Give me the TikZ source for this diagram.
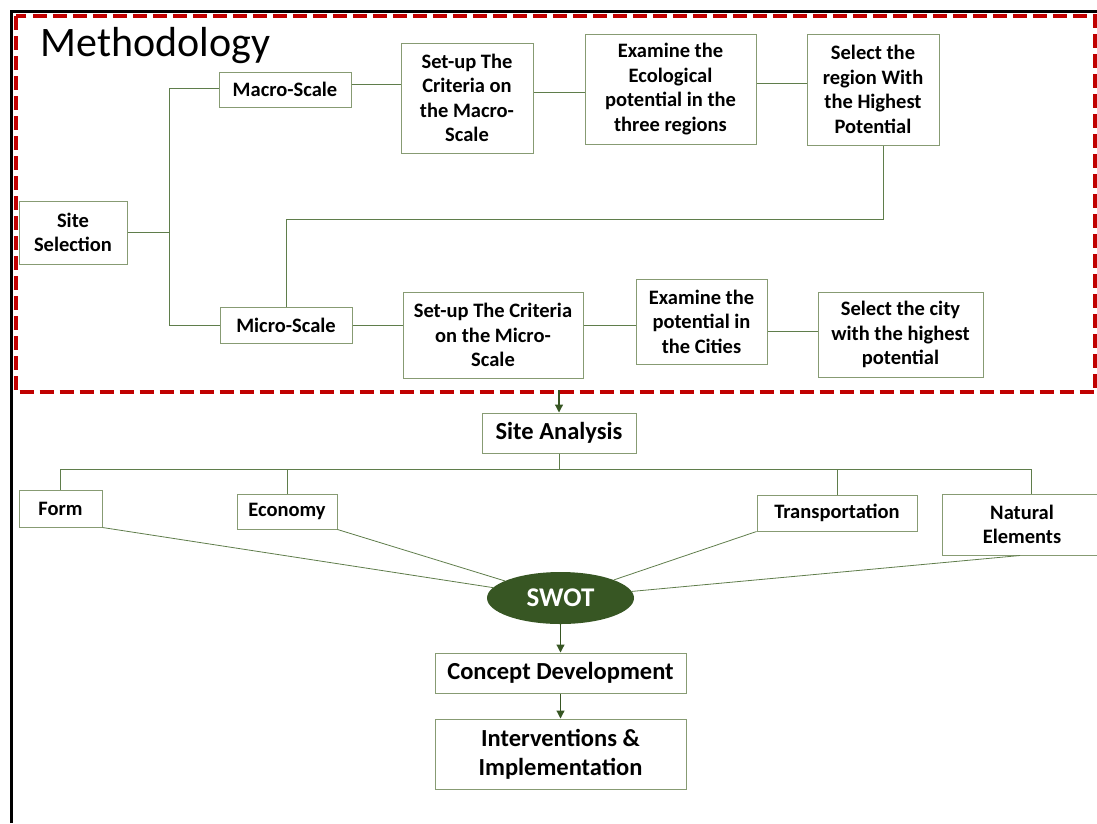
\documentclass[tikz,border=0pt]{standalone}
\usepackage{fontspec}
\setmainfont{Carlito}
\usetikzlibrary{arrows.meta,shapes.geometric}

\definecolor{boxline}{RGB}{135,155,115}
\definecolor{linkline}{RGB}{95,125,75}
\definecolor{swotgreen}{RGB}{55,86,35}
\definecolor{dashred}{RGB}{192,0,0}

\tikzset{
  stage/.style={draw=boxline, line width=1pt, align=center, inner sep=0pt,
    font=\bfseries\fontsize{20.5}{24.5}\selectfont},
  bigstage/.style={stage, font=\bfseries\fontsize{24.5}{29}\selectfont},
  link/.style={draw=linkline, line width=0.8pt},
  flow/.style={draw=swotgreen, line width=1.2pt, -{Triangle[length=8pt,width=8pt]}}
}

\begin{document}
\begin{tikzpicture}[x=1pt,y=-1pt]
    \useasboundingbox (0,0) rectangle (1097,823);
    \clip (0,0) rectangle (1097,823);

    % Frame
    \draw[line width=3pt] (11.5,823) -- (11.5,11) -- (1100,11);
    \draw[dashred, line width=4pt, dash pattern=on 14pt off 6pt]
      (15.5,16) rectangle (1095,392);
    \node[anchor=base west, font=\fontsize{42}{50}\selectfont] (methodology) at (37,56) {Methodology};

    % Nodes
    \node[stage, minimum width=108pt, minimum height=63pt] (site-selection) at (73,232.5) {Site\\Selection};
    \node[stage, minimum width=132pt, minimum height=35pt] (macro-scale) at (285,89.5) {Macro-Scale};
    \node[stage, minimum width=132pt, minimum height=36pt] (micro-scale) at (286,325) {Micro-Scale};
    \node[stage, minimum width=132pt, minimum height=110pt] (macro-criteria) at (467,98) {Set-up The\\Criteria on\\the Macro-\\Scale};
    \node[stage, minimum width=171pt, minimum height=110pt] (macro-examine) at (670.5,89) {Examine the\\Ecological\\potential in the\\three regions};
    \node[stage, minimum width=132pt, minimum height=111pt] (macro-select) at (873,89.5) {Select the\\region With\\the Highest\\Potential};
    \node[stage, minimum width=180pt, minimum height=86pt] (micro-criteria) at (493,335) {Set-up The Criteria\\on the Micro-\\Scale};
    \node[stage, minimum width=131pt, minimum height=85pt] (micro-examine) at (701.5,321.5) {Examine the\\potential in\\the Cities};
    \node[stage, minimum width=165pt, minimum height=85pt] (micro-select) at (900.5,334.5) {Select the city\\with the highest\\potential};

    \node[bigstage, minimum width=154pt, minimum height=40pt] (site-analysis) at (559,433) {Site Analysis};
    \node[stage, minimum width=83pt, minimum height=37pt] (form) at (60.5,508.5) {Form};
    \node[stage, minimum width=100pt, minimum height=35pt] (economy) at (287,511.5) {Economy};
    \node[stage, minimum width=160pt, minimum height=36pt] (transport) at (837,513) {Transportation};
    \node[stage, minimum width=160pt, minimum height=61pt] (natural) at (1022,524.5) {Natural\\Elements};
    \node[ellipse, fill=swotgreen, text=white, inner sep=0pt, minimum width=147pt, minimum height=52pt,
      font=\bfseries\fontsize{27}{30}\selectfont] (swot) at (560.5,598) {SWOT};
    \node[bigstage, minimum width=251pt, minimum height=40pt] (concept) at (560.5,673) {Concept Development};
    \node[bigstage, minimum width=251pt, minimum height=70pt] (interventions) at (560.5,754) {Interventions \&\\Implementation};

    \coordinate (frame-bottom) at (559,390);

    % Lines
    \draw[link] (site-selection.east) -- ++(42,0) |- ([yshift=1.5pt]macro-scale.west);
    \draw[link] (site-selection.east) -- ++(42,0) |- (micro-scale.west);
    \draw[link] ([yshift=5pt]macro-scale.east) -- ([yshift=5pt]macro-scale.east -| macro-criteria.west);
    \draw[link] ([yshift=-3pt]macro-examine.west) -- ([yshift=-3pt]macro-examine.west -| macro-criteria.east);
    \draw[link] ([yshift=6pt]macro-examine.east) -- ([yshift=6pt]macro-examine.east -| macro-select.west);
    \draw[link] ([xshift=10pt]macro-select.south) -- ++(0,73.5) -| (micro-scale.north);
    \draw[link] (micro-scale.east) -- (micro-scale.east -| micro-criteria.west);
    \draw[link] (micro-scale.east -| micro-criteria.east) -- (micro-scale.east -| micro-examine.west);
    \draw[link] ([yshift=3pt]micro-select.west) -- ([yshift=3pt]micro-select.west -| micro-examine.east);

    \draw[flow] (frame-bottom) -- (site-analysis.north);
    \draw[link] (site-analysis.south) -- ++(0,16) coordinate (bus);
    \foreach \part in {form,economy,transport} \draw[link] (bus) -| (\part.north);
    \draw[link] (bus) -| ([xshift=9pt]natural.north);

    \draw[link] (form.south east) -- (swot);
    \draw[link] (economy.south east) -- (swot);
    \draw[link] (transport.south west) -- (swot);
    \draw[link] ([xshift=-2pt]natural.south) -- (swot);

    \draw[flow] (swot) -- (concept);
    \draw[flow] (concept) -- (interventions);
\end{tikzpicture}
\end{document}
